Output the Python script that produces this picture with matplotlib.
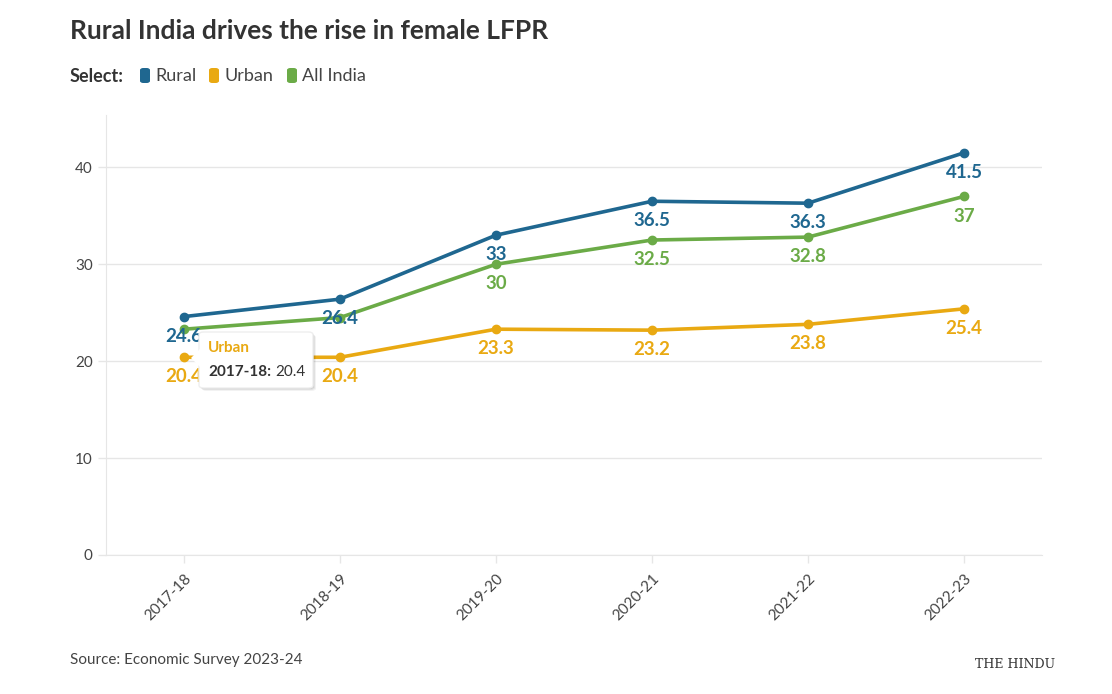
import matplotlib.pyplot as plt
from matplotlib.patches import FancyBboxPatch, Polygon

years = ['2017-18', '2018-19', '2019-20', '2020-21', '2021-22', '2022-23']
rural = [24.6, 26.4, 33, 36.5, 36.3, 41.5]
urban = [20.4, 20.4, 23.3, 23.2, 23.8, 25.4]
all_india = [23.3, 24.5, 30, 32.5, 32.8, 37]

c_rural = '#1f6790'
c_urban = '#e9a912'
c_all = '#6bab47'

plt.rcParams['font.family'] = ['Lato', 'DejaVu Sans']

W, H = 1112, 694
fig = plt.figure(figsize=(W / 100, H / 100), dpi=100)
ax = fig.add_axes([106 / W, 1 - 555 / H, 936 / W, 440 / H])

x = list(range(len(years)))
ax.plot(x, all_india, color=c_all, lw=2.6, marker='o', ms=6, zorder=3)
ax.plot(x, urban, color=c_urban, lw=2.6, marker='o', ms=6, zorder=3)
ax.plot(x, rural, color=c_rural, lw=2.6, marker='o', ms=6, zorder=4)

# data labels below points (All India hidden where they collide)
for i in x:
    ax.annotate(f'{rural[i]:g}', (i, rural[i]), xytext=(0, -8), textcoords='offset points',
                ha='center', va='top', fontsize=13.5, fontweight='bold', color=c_rural, zorder=5)
    ax.annotate(f'{urban[i]:g}', (i, urban[i]), xytext=(0, -8), textcoords='offset points',
                ha='center', va='top', fontsize=13.5, fontweight='bold', color=c_urban, zorder=5)
    if i >= 2:
        ax.annotate(f'{all_india[i]:g}', (i, all_india[i]), xytext=(0, -8), textcoords='offset points',
                    ha='center', va='top', fontsize=13.5, fontweight='bold', color=c_all, zorder=5)

ax.set_xlim(-0.5, 5.5)
ax.set_ylim(0, 45.4)
ax.set_yticks([0, 10, 20, 30, 40])
ax.set_xticks(x)
ax.set_xticklabels(years, rotation=45, ha='right', rotation_mode='anchor')
ax.tick_params(axis='both', colors='#e6e6e6', labelcolor='#444444', labelsize=11, length=6, width=1)
ax.tick_params(axis='x', pad=6)
ax.grid(axis='y', color='#e6e6e6', lw=1)
ax.set_axisbelow(True)
for s in ['top', 'right']:
    ax.spines[s].set_visible(False)
ax.spines['left'].set_color('#e6e6e6')
ax.spines['bottom'].set_color('#e6e6e6')

# tooltip with soft shadow
for off, a in [(3, 0.05), (2, 0.07), (1, 0.09)]:
    fig.patches.append(FancyBboxPatch(((199 + off) / W, 1 - (388 + off) / H), 114 / W, 56 / H,
                                      boxstyle='round,pad=0,rounding_size=0.004', transform=fig.transFigure,
                                      facecolor='black', alpha=a, edgecolor='none', zorder=9))
fig.patches.append(FancyBboxPatch((199 / W, 1 - 388 / H), 114 / W, 56 / H,
                                  boxstyle='round,pad=0,rounding_size=0.004', transform=fig.transFigure,
                                  facecolor='white', edgecolor='#eeeeee', lw=1, zorder=10))
fig.patches.append(Polygon([(200 / W, 1 - 349 / H), (191 / W, 1 - 358 / H), (200 / W, 1 - 367 / H)],
                           closed=True, transform=fig.transFigure, facecolor='white', edgecolor='none', zorder=11))
fig.text(208 / W, 1 - 348 / H, 'Urban', fontsize=11, fontweight='bold', color=c_urban, va='center', zorder=12)
t_key = fig.text(208 / W, 1 - 372 / H, '2017-18:', fontsize=11, fontweight='bold', color='#333333',
                 va='center', zorder=12)
fig.add_artist(plt.Annotation('20.4', xy=(1, 0.5), xycoords=t_key, xytext=(3, 0), textcoords='offset points',
                              fontsize=11, color='#333333', va='center', ha='left', zorder=12))

# title and legend
fig.text(70 / W, 1 - 31 / H, 'Rural India drives the rise in female LFPR', fontsize=19,
         fontweight='bold', color='#333333', va='center')
fig.text(70 / W, 1 - 76 / H, 'Select:', fontsize=13, fontweight='bold', color='#333333', va='center')
for lx, label, col in [(140, 'Rural', c_rural), (209, 'Urban', c_urban), (287, 'All India', c_all)]:
    fig.patches.append(FancyBboxPatch((lx / W, 1 - 83 / H), 10 / W, 15 / H,
                                      boxstyle='round,pad=0,rounding_size=0.003', transform=fig.transFigure,
                                      facecolor=col, edgecolor='none'))
    fig.text((lx + 15) / W, 1 - 76 / H, label, fontsize=13, color='#444444', va='center')

# footer
fig.text(70 / W, 1 - 660 / H, 'Source: Economic Survey 2023-24', fontsize=11, color='#444444', va='center')
fig.text(1015 / W, 1 - 664 / H, 'THE HINDU', fontsize=9, family='DejaVu Serif', color='#333333',
         ha='center', va='center')

fig.savefig('out.png', dpi=100, facecolor='white')
